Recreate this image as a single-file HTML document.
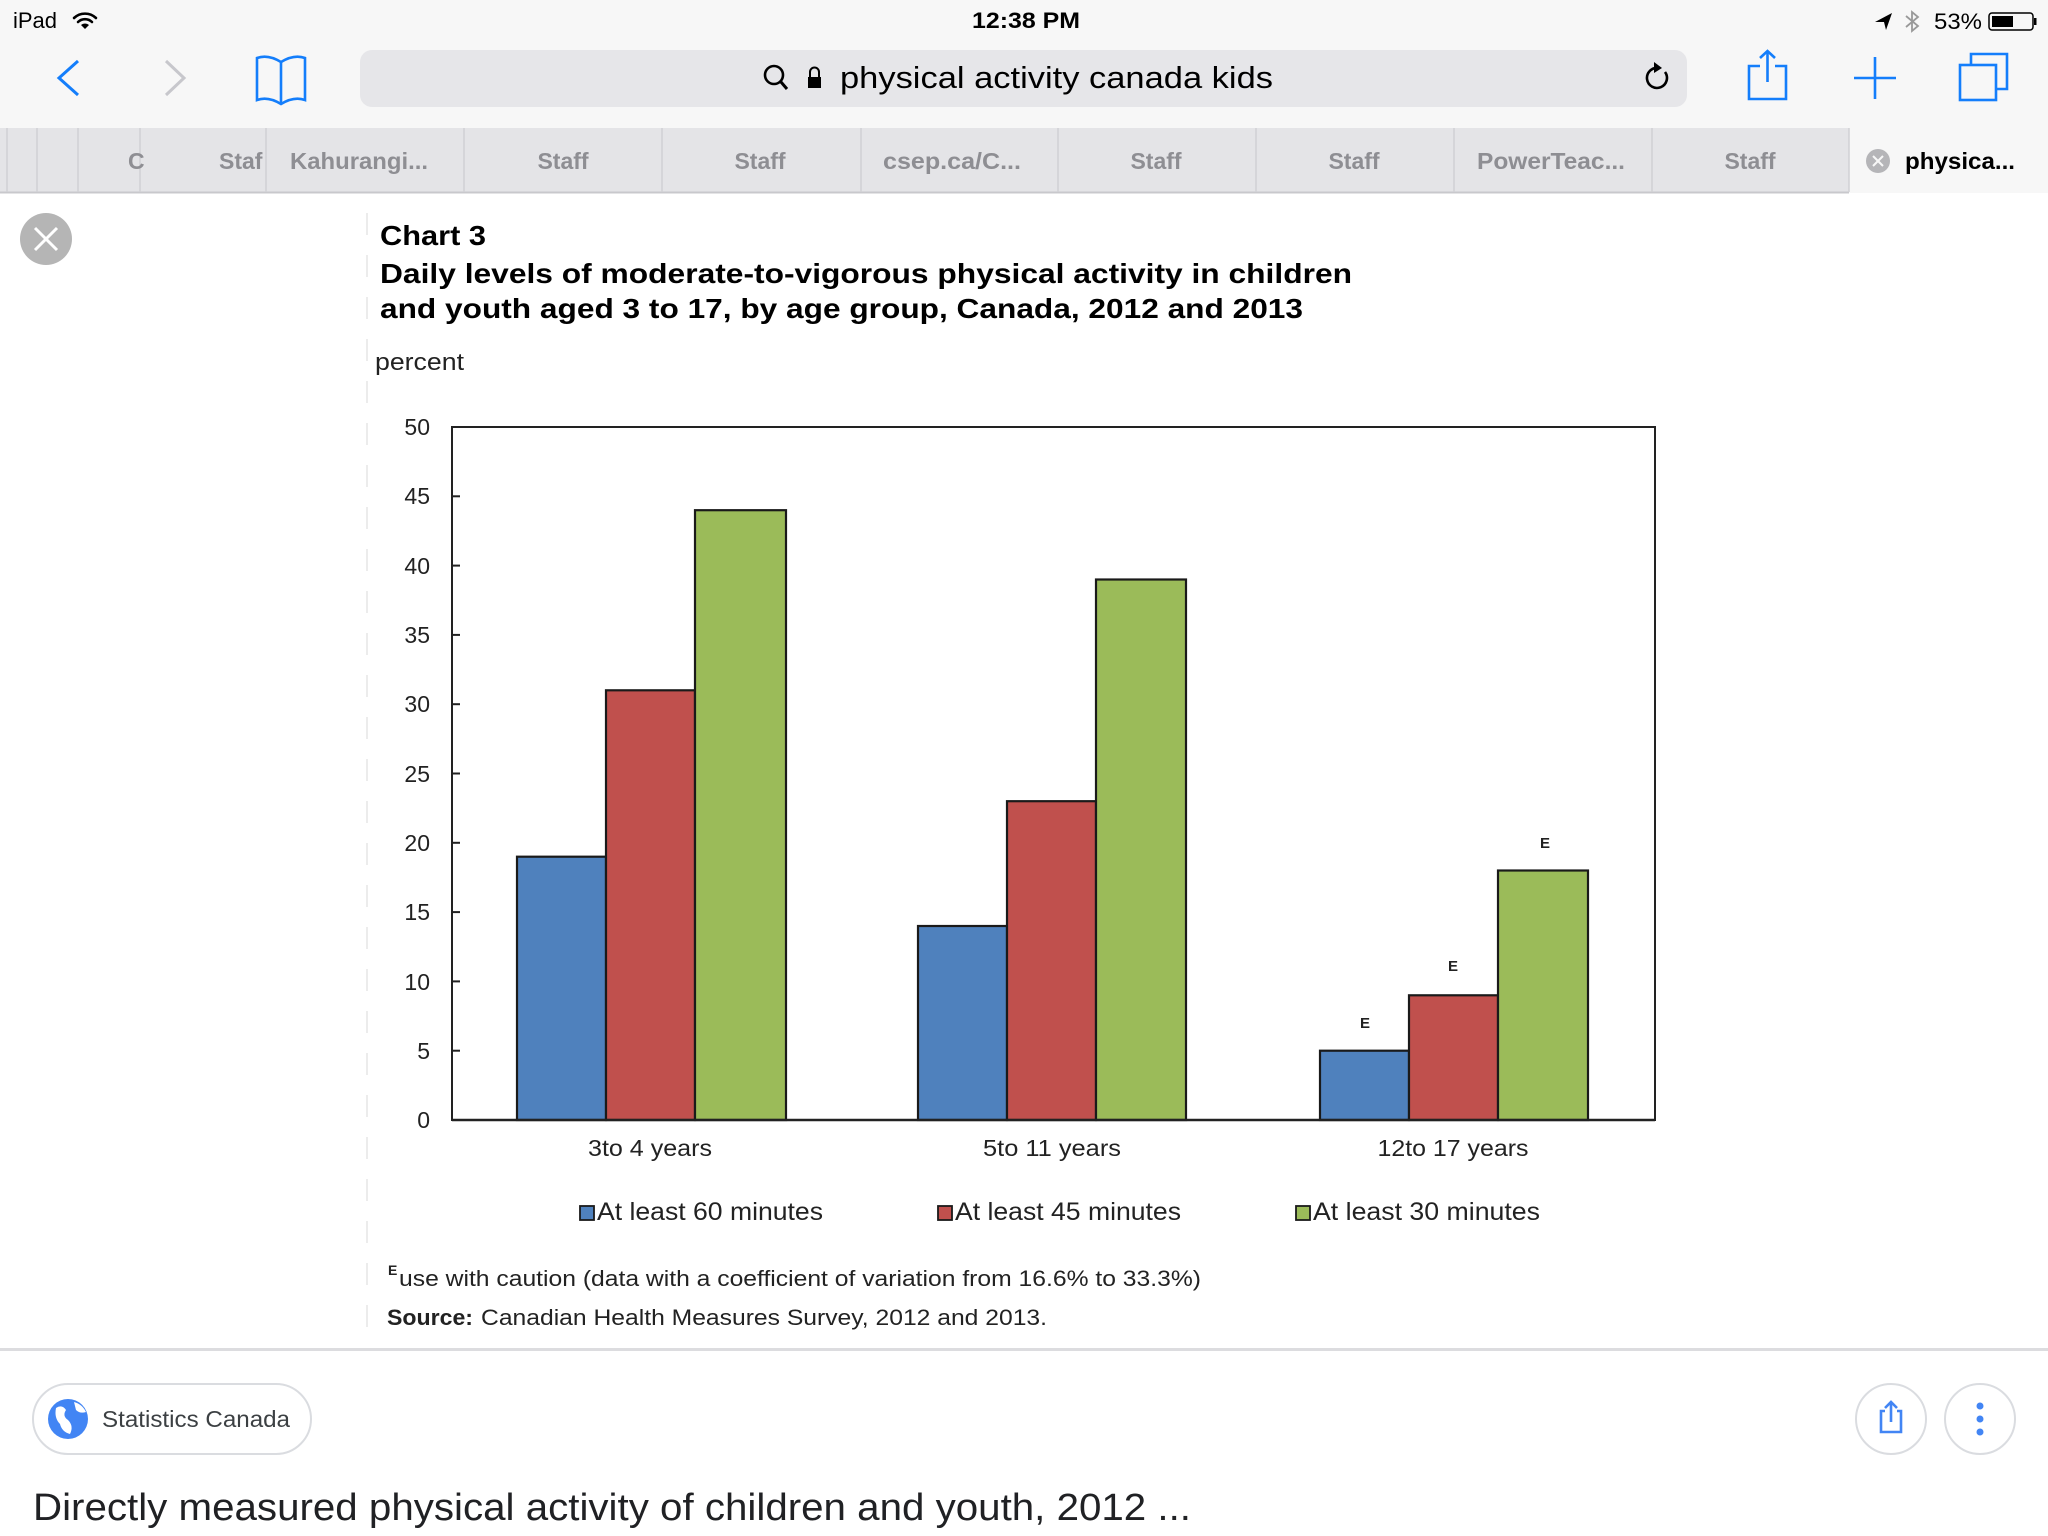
<!DOCTYPE html>
<html><head><meta charset="utf-8"><style>
html,body{margin:0;padding:0;background:#fff;}
svg{display:block;}
text{font-family:"Liberation Sans",Arial,sans-serif;}
</style></head><body>
<svg width="2048" height="1536" viewBox="0 0 2048 1536" xmlns="http://www.w3.org/2000/svg">
<!-- top chrome -->
<rect x="0" y="0" width="2048" height="128" fill="#f7f7f7"/>
<text x="13" y="28" font-size="22" fill="#000">iPad</text>
<g fill="none" stroke="#000" stroke-width="2.6" stroke-linecap="round">
<path d="M74 18 A16 16 0 0 1 96 18"/><path d="M78 22 A10 10 0 0 1 92 22"/>
</g>
<path d="M81 25 L85 29 L89 25 A6 6 0 0 0 81 25Z" fill="#000"/>
<text x="1026" y="28" font-size="22" font-weight="bold" text-anchor="middle" fill="#000" textLength="108" lengthAdjust="spacingAndGlyphs">12:38 PM</text>
<path d="M1892 13 L1875 22 L1884 22 L1886 30 Z" fill="#000"/>
<path d="M1906 16 L1918 26 L1912 31 L1912 12 L1918 17 L1906 27" fill="none" stroke="#999" stroke-width="1.8"/>
<text x="1934" y="29" font-size="22" fill="#000" textLength="48" lengthAdjust="spacingAndGlyphs">53%</text>
<rect x="1989" y="13" width="44" height="17" rx="3" fill="none" stroke="#000" stroke-width="1.5"/>
<rect x="1992" y="16" width="21" height="11" fill="#000"/>
<rect x="2034" y="18" width="2.5" height="7" fill="#000"/>

<polyline points="78,61 59,78 78,95" fill="none" stroke="#147efb" stroke-width="3"/>
<polyline points="166,61 184,78 166,95" fill="none" stroke="#c7c7cc" stroke-width="3"/>
<g fill="none" stroke="#147efb" stroke-width="2.6">
<path d="M281 62 Q268 54 257 58 L257 100 Q268 96 281 104 Q294 96 305 100 L305 58 Q294 54 281 62 Z"/>
<line x1="281" y1="62" x2="281" y2="104"/>
</g>
<rect x="360" y="50" width="1327" height="57" rx="12" fill="#e6e6e9"/>
<circle cx="774" cy="75" r="9" fill="none" stroke="#000" stroke-width="2.6"/>
<line x1="781" y1="82" x2="787" y2="89" stroke="#000" stroke-width="3"/>
<rect x="808" y="77" width="13" height="11" fill="#000"/>
<path d="M810 77 L810 72 A4.5 4.5 0 0 1 819 72 L819 77" fill="none" stroke="#000" stroke-width="2"/>
<text x="840" y="88" font-size="31" fill="#000" textLength="433" lengthAdjust="spacingAndGlyphs">physical activity canada kids</text>
<path d="M1665 72 A10 10 0 1 1 1658 68" fill="none" stroke="#000" stroke-width="2.6"/>
<path d="M1654 62 L1662 68 L1654 73 Z" fill="#000"/>
<g fill="none" stroke="#147efb" stroke-width="2.6">
<path d="M1760 66 L1749 66 L1749 99 L1786 99 L1786 66 L1775 66"/>
<line x1="1767.5" y1="51" x2="1767.5" y2="82"/>
<polyline points="1760,58 1767.5,51 1775,58"/>
<line x1="1875" y1="57" x2="1875" y2="99"/><line x1="1854" y1="78" x2="1896" y2="78"/>
<rect x="1960" y="65" width="36" height="35"/>
<path d="M1971 64 L1971 54 L2007 54 L2007 89 L1997 89"/>
</g>

<!-- tab bar -->
<rect x="0" y="128" width="2048" height="65" fill="#e4e4e7"/>
<rect x="1849" y="128" width="199" height="65" fill="#f7f7f7"/>
<line x1="0" y1="192.5" x2="1849" y2="192.5" stroke="#c8c8cc" stroke-width="2"/>
<g stroke="#d0d0d4" stroke-width="1.5">
<line x1="7" y1="128" x2="7" y2="192"/><line x1="37" y1="128" x2="37" y2="192"/><line x1="78" y1="128" x2="78" y2="192"/><line x1="140" y1="128" x2="140" y2="192"/><line x1="266" y1="128" x2="266" y2="192"/><line x1="464" y1="128" x2="464" y2="192"/><line x1="662" y1="128" x2="662" y2="192"/><line x1="861" y1="128" x2="861" y2="192"/><line x1="1058" y1="128" x2="1058" y2="192"/><line x1="1256" y1="128" x2="1256" y2="192"/><line x1="1454" y1="128" x2="1454" y2="192"/><line x1="1652" y1="128" x2="1652" y2="192"/><line x1="1849" y1="128" x2="1849" y2="192"/>
</g>
<g font-size="23" fill="#8e8e93" font-weight="bold">
<text x="128" y="169">C</text>
<text x="219" y="169">Staf</text>
<text x="290" y="169" textLength="138" lengthAdjust="spacingAndGlyphs">Kahurangi...</text>
<text x="563" y="169" text-anchor="middle">Staff</text>
<text x="760" y="169" text-anchor="middle">Staff</text>
<text x="952" y="169" text-anchor="middle" textLength="138" lengthAdjust="spacingAndGlyphs">csep.ca/C...</text>
<text x="1156" y="169" text-anchor="middle">Staff</text>
<text x="1354" y="169" text-anchor="middle">Staff</text>
<text x="1551" y="169" text-anchor="middle" textLength="148" lengthAdjust="spacingAndGlyphs">PowerTeac...</text>
<text x="1750" y="169" text-anchor="middle">Staff</text>
</g>
<circle cx="1878" cy="161" r="12" fill="#b5b5b8"/>
<g stroke="#f7f7f7" stroke-width="2"><line x1="1873" y1="156" x2="1883" y2="166"/><line x1="1883" y1="156" x2="1873" y2="166"/></g>
<text x="1905" y="169" font-size="23" font-weight="bold" fill="#000" textLength="110" lengthAdjust="spacingAndGlyphs">physica...</text>

<!-- close button -->
<circle cx="46" cy="239" r="26" fill="#b5b5b5"/>
<g stroke="#fff" stroke-width="3"><line x1="35" y1="228" x2="57" y2="250"/><line x1="57" y1="228" x2="35" y2="250"/></g>

<!-- faint dashed border -->
<line x1="367" y1="213" x2="367" y2="1345" stroke="#ececec" stroke-width="2" stroke-dasharray="22 20"/>

<!-- titles -->
<g font-weight="bold" fill="#000">
<text x="380" y="245" font-size="28" textLength="106" lengthAdjust="spacingAndGlyphs">Chart 3</text>
<text x="380" y="283" font-size="28" textLength="972" lengthAdjust="spacingAndGlyphs">Daily levels of moderate-to-vigorous physical activity in children</text>
<text x="380" y="318" font-size="28" textLength="923" lengthAdjust="spacingAndGlyphs">and youth aged 3 to 17, by age group, Canada, 2012 and 2013</text>
</g>
<text x="375" y="370" font-size="24" fill="#222" textLength="89" lengthAdjust="spacingAndGlyphs">percent</text>

<!-- plot -->
<rect x="452" y="427" width="1203" height="693" fill="#fff" stroke="#222" stroke-width="2"/>
<g font-size="23" fill="#222" text-anchor="end">
<text x="430" y="1128">0</text>
<text x="430" y="1059">5</text>
<text x="430" y="990">10</text>
<text x="430" y="920">15</text>
<text x="430" y="851">20</text>
<text x="430" y="782">25</text>
<text x="430" y="712">30</text>
<text x="430" y="643">35</text>
<text x="430" y="574">40</text>
<text x="430" y="504">45</text>
<text x="430" y="435">50</text>
</g>
<g stroke="#222" stroke-width="2">
<line x1="452" y1="1050.7" x2="460" y2="1050.7"/><line x1="452" y1="981.4" x2="460" y2="981.4"/><line x1="452" y1="912.1" x2="460" y2="912.1"/><line x1="452" y1="842.8" x2="460" y2="842.8"/><line x1="452" y1="773.5" x2="460" y2="773.5"/><line x1="452" y1="704.2" x2="460" y2="704.2"/><line x1="452" y1="634.9" x2="460" y2="634.9"/><line x1="452" y1="565.6" x2="460" y2="565.6"/><line x1="452" y1="496.3" x2="460" y2="496.3"/>
</g>
<g stroke="#1a1a1a" stroke-width="2.2">
<rect x="517" y="856.7" width="89" height="263.3" fill="#4f81bd"/>
<rect x="606" y="690.3" width="89" height="429.7" fill="#c0504d"/>
<rect x="695" y="510.2" width="91" height="609.8" fill="#9bbb59"/>
<rect x="918" y="926" width="89" height="194" fill="#4f81bd"/>
<rect x="1007" y="801.2" width="89" height="318.8" fill="#c0504d"/>
<rect x="1096" y="579.5" width="90" height="540.5" fill="#9bbb59"/>
<rect x="1320" y="1050.7" width="89" height="69.3" fill="#4f81bd"/>
<rect x="1409" y="995.3" width="89" height="124.7" fill="#c0504d"/>
<rect x="1498" y="870.5" width="90" height="249.5" fill="#9bbb59"/>
</g>
<line x1="452" y1="1120" x2="1655" y2="1120" stroke="#222" stroke-width="2.5"/>
<g font-size="15" font-weight="bold" fill="#222" text-anchor="middle">
<text x="1365" y="1028">E</text>
<text x="1453" y="971">E</text>
<text x="1545" y="848">E</text>
</g>
<g font-size="23" fill="#222" text-anchor="middle">
<text x="650" y="1156" textLength="124" lengthAdjust="spacingAndGlyphs">3to 4 years</text>
<text x="1052" y="1156" textLength="138" lengthAdjust="spacingAndGlyphs">5to 11 years</text>
<text x="1453" y="1156" textLength="151" lengthAdjust="spacingAndGlyphs">12to 17 years</text>
</g>
<!-- legend -->
<g stroke="#1a1a1a" stroke-width="1.8">
<rect x="580" y="1206" width="14" height="14" fill="#4f81bd"/>
<rect x="938" y="1206" width="14" height="14" fill="#c0504d"/>
<rect x="1296" y="1206" width="14" height="14" fill="#9bbb59"/>
</g>
<g font-size="25" fill="#222">
<text x="597" y="1220" textLength="226" lengthAdjust="spacingAndGlyphs">At least 60 minutes</text>
<text x="955" y="1220" textLength="226" lengthAdjust="spacingAndGlyphs">At least 45 minutes</text>
<text x="1313" y="1220" textLength="227" lengthAdjust="spacingAndGlyphs">At least 30 minutes</text>
</g>
<!-- footnotes -->
<text x="388" y="1275" font-size="14" font-weight="bold" fill="#222">E</text>
<text x="399" y="1286" font-size="22" fill="#222" textLength="802" lengthAdjust="spacingAndGlyphs">use with caution (data with a coefficient of variation from 16.6% to 33.3%)</text>
<text x="387" y="1325" font-size="22" font-weight="bold" fill="#222" textLength="86" lengthAdjust="spacingAndGlyphs">Source:</text>
<text x="481" y="1325" font-size="22" fill="#222" textLength="566" lengthAdjust="spacingAndGlyphs">Canadian Health Measures Survey, 2012 and 2013.</text>

<!-- separator -->
<rect x="0" y="1348" width="2048" height="3" fill="#dcdcdf"/>

<!-- bottom card -->
<rect x="33" y="1384" width="278" height="70" rx="35" fill="#fff" stroke="#dadce0" stroke-width="2"/>
<circle cx="68" cy="1419" r="20" fill="#4285f4"/>
<path d="M56 1408 Q62 1404 66 1410 Q62 1416 68 1420 Q74 1426 70 1434 Q62 1432 60 1424 Q54 1418 56 1408Z M74 1402 Q82 1404 86 1412 Q80 1414 76 1410Z" fill="#fff"/>
<text x="102" y="1427" font-size="23" fill="#3c4043" textLength="188" lengthAdjust="spacingAndGlyphs">Statistics Canada</text>
<circle cx="1891" cy="1419" r="35" fill="#fff" stroke="#dadce0" stroke-width="2"/>
<circle cx="1980" cy="1419" r="35" fill="#fff" stroke="#dadce0" stroke-width="2"/>
<g fill="none" stroke="#4285f4" stroke-width="2.6">
<path d="M1885 1411 L1881 1411 L1881 1432 L1901 1432 L1901 1411 L1897 1411"/>
<line x1="1891" y1="1402" x2="1891" y2="1422"/>
<polyline points="1885,1408 1891,1402 1897,1408"/>
</g>
<g fill="#4285f4"><circle cx="1980" cy="1406" r="3.5"/><circle cx="1980" cy="1419" r="3.5"/><circle cx="1980" cy="1432" r="3.5"/></g>
<text x="33" y="1520" font-size="38" fill="#202124" textLength="1158" lengthAdjust="spacingAndGlyphs">Directly measured physical activity of children and youth, 2012 ...</text>
</svg>
</body></html>
